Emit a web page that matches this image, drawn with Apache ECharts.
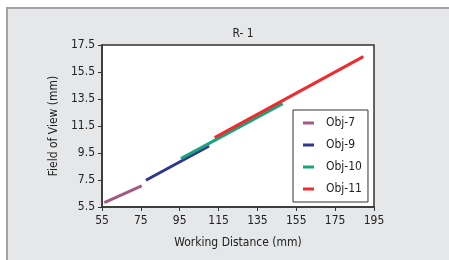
<!DOCTYPE html>
<html>
<head>
<meta charset="utf-8">
<script src="https://cdn.jsdelivr.net/npm/echarts@6/dist/echarts.min.js"></script>
<style>
  html, body { margin: 0; padding: 0; background: #fff; }
  #chart { width: 449px; height: 260px; }
</style>
</head>
<body>
<div id="chart"></div>
<script>
// series names
const seriesNames = ['Obj-7', 'Obj-9', 'Obj-10', 'Obj-11'];
const seriesColors = ['#a35a82', '#2e3592', '#19a57c', '#ee2b2f'];

// working distance (mm) / field of view (mm)
const obj7 = [[56.2, 5.82], [75.4, 7.06]];
const obj9 = [[77.6, 7.48], [110.1, 10.02]];
const obj10 = [[95.6, 9.08], [148.0, 13.16]];
const obj11 = [[113.0, 10.64], [189.5, 16.64]];

// tick labels
const xTicks = [55, 75, 95, 115, 135, 155, 175, 195];
const yTicks = [5.5, 7.5, 9.5, 11.5, 13.5, 15.5, 17.5];

const font = '"DejaVu Sans Condensed", "Liberation Sans Narrow", sans-serif';
const allData = [obj7, obj9, obj10, obj11];

const chart = echarts.init(document.getElementById('chart'));
chart.setOption({
  animation: false,
  textStyle: { fontFamily: font, color: '#222' },
  graphic: [
    {
      type: 'rect',
      shape: { x: 7, y: 8, width: 450, height: 260 },
      style: { fill: '#e6e7e9', stroke: '#a3a3a5', lineWidth: 2 },
      z: -10
    }
  ],
  title: {
    text: 'R- 1',
    left: 238,
    top: 23,
    textAlign: 'center',
    textStyle: { fontFamily: font, fontSize: 12, fontWeight: 'normal', color: '#222' }
  },
  grid: {
    left: 102,
    top: 45,
    width: 272,
    height: 162,
    show: true,
    backgroundColor: '#fff',
    borderColor: '#333',
    borderWidth: 1.5
  },
  legend: {
    data: seriesNames,
    orient: 'vertical',
    left: 293,
    top: 110,
    padding: [5, 6, 5, 10],
    backgroundColor: '#fff',
    borderColor: '#333',
    borderWidth: 1,
    itemGap: 6,
    itemWidth: 11,
    itemHeight: 3,
    icon: 'rect',
    textStyle: { fontFamily: font, fontSize: 12, color: '#222', lineHeight: 16, padding: [0, 0, 0, 7] }
  },
  xAxis: {
    type: 'value',
    min: 55,
    max: 195,
    name: 'Working Distance (mm)',
    nameLocation: 'middle',
    nameGap: 30,
    nameTextStyle: { fontFamily: font, fontSize: 12, color: '#222' },
    axisLine: { show: true, lineStyle: { color: '#333', width: 1.5 } },
    axisTick: { show: true, length: 4, customValues: xTicks, lineStyle: { color: '#333' } },
    axisLabel: { customValues: xTicks, fontSize: 12, color: '#222', margin: 8, fontFamily: font },
    splitLine: { show: false }
  },
  yAxis: {
    type: 'value',
    min: 5.5,
    max: 17.5,
    name: 'Field of View (mm)',
    nameLocation: 'middle',
    nameGap: 36,
    nameTextStyle: { fontFamily: font, fontSize: 12, color: '#222' },
    axisLine: { show: true, lineStyle: { color: '#333', width: 1.5 } },
    axisTick: { show: true, length: 4, customValues: yTicks, lineStyle: { color: '#333' } },
    axisLabel: { customValues: yTicks, fontSize: 12, color: '#222', margin: 7, fontFamily: font,
      formatter: v => v.toFixed(1) },
    splitLine: { show: false }
  },
  series: seriesNames.map((name, i) => ({
    name: name,
    type: 'line',
    data: allData[i],
    symbol: 'none',
    color: seriesColors[i],
    lineStyle: { width: 3, color: seriesColors[i] }
  }))
});
</script>
</body>
</html>
